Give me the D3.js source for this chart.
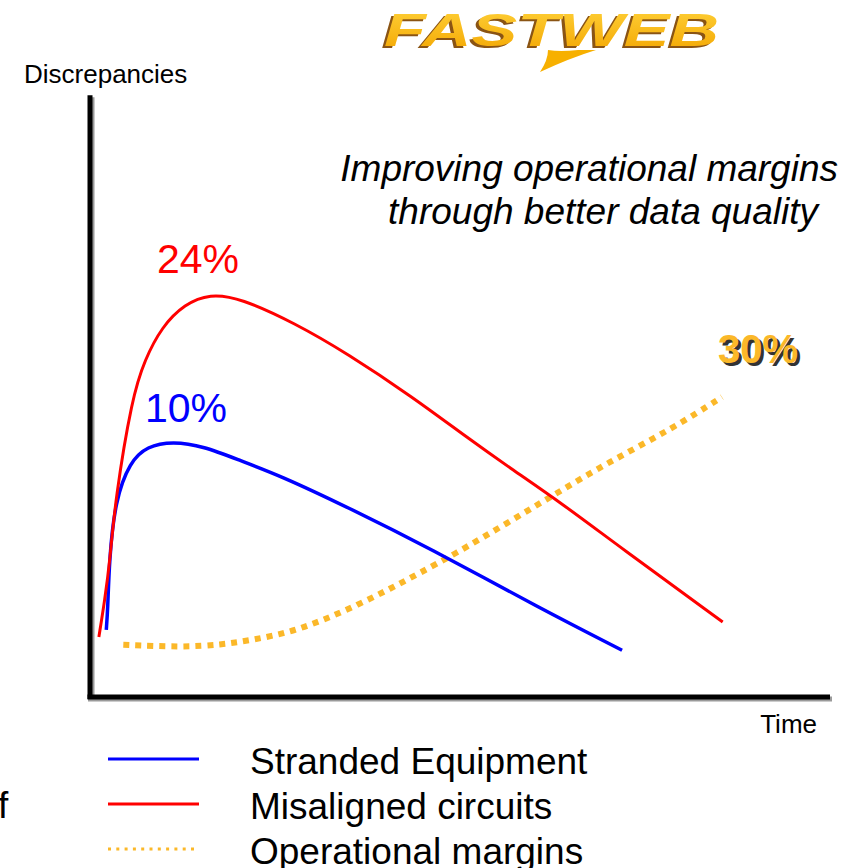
<!DOCTYPE html>
<html>

<head>
    <meta charset="utf-8">
    <title>Discrepancies over time</title>
    <script src="https://d3js.org/d3.v7.min.js"></script>
    <style>
        body { margin: 0; background: #fff; }
        text { font-family: "Liberation Sans", Arial, sans-serif; }
    </style>
</head>

<body>
    <svg id="chart" width="856" height="868"></svg>
    <script>
        // time index (0-100) and discrepancy index (0-100)
        const redT = [1.2, 2.0, 2.7, 3.4, 5.7, 7.4, 9.7, 12.8, 16.2, 20.3, 27.7, 34.7, 43.6, 50.9, 57.2, 63.5, 71.6, 85.5];
        const redV = [10, 16.2, 22.8, 32.8, 50, 56.2, 61.7, 65.5, 67.2, 66.5, 62.3, 57.3, 50, 43.3, 37.8, 32.5, 25, 12.5];

        const blueT = [2.2, 2.4, 2.6, 3.4, 5.4, 7.7, 11.2, 15.3, 20.3, 25.7, 34.7, 45.9, 60.8, 71.9];
        const blueV = [11.2, 14.5, 22.8, 32.8, 39.2, 41.8, 42.6, 41.8, 39.4, 36.9, 31.7, 24.8, 14.8, 7.8];

        const orangeT = [4.5, 12.6, 17.6, 22, 27, 31.5, 36.1, 40.5, 44.6, 49.1, 56.4, 63.1, 69.9, 78.8, 85.4];
        const orangeV = [8.7, 8.3, 8.7, 9.5, 10.8, 12.8, 15.3, 18, 20.7, 23.7, 29, 34, 39, 44.8, 50];

        const seriesNames = ["Stranded Equipment", "Misaligned circuits", "Operational margins"];
        const peakLabels = ["10%", "24%", "30%"];

        const svg = d3.select("#chart");

        const x = d3.scaleLinear().domain([0, 100]).range([90, 830]);
        const y = d3.scaleLinear().domain([0, 100]).range([697, 97]);

        // logo
        const logo = svg.append("g");
        const grad = svg.append("defs").append("linearGradient")
            .attr("id", "logoGrad").attr("x1", 0).attr("y1", 0).attr("x2", 0).attr("y2", 1);
        grad.append("stop").attr("offset", "0%").attr("stop-color", "#ffd23a");
        grad.append("stop").attr("offset", "100%").attr("stop-color", "#f3a500");
        logo.append("text")
            .attr("x", 381).attr("y", 48)
            .attr("textLength", 335).attr("lengthAdjust", "spacingAndGlyphs")
            .style("font-size", "46px").style("font-weight", "bold").style("font-style", "italic")
            .attr("fill", "#8a5414")
            .text("FASTWEB");
        logo.append("text")
            .attr("x", 384).attr("y", 46)
            .attr("textLength", 335).attr("lengthAdjust", "spacingAndGlyphs")
            .style("font-size", "46px").style("font-weight", "bold").style("font-style", "italic")
            .attr("fill", "url(#logoGrad)")
            .text("FASTWEB");
        logo.append("path")
            .attr("d", "M548,50 Q560,52 578,50 L596,50 Q570,58 540,72 Q548,60 548,50 Z")
            .attr("fill", "#f7b000");

        // axes with soft shadow
        const axisG = svg.append("g");
        axisG.append("line")
            .attr("x1", x(0) + 2).attr("x2", x(0) + 2).attr("y1", y(100.3) + 2).attr("y2", y(0) + 3)
            .attr("stroke", "#9a9a9a").attr("stroke-width", 5);
        axisG.append("line")
            .attr("x1", x(0) - 2).attr("x2", x(100) + 2).attr("y1", y(0) + 2).attr("y2", y(0) + 2)
            .attr("stroke", "#9a9a9a").attr("stroke-width", 5);
        axisG.append("line")
            .attr("x1", x(0)).attr("x2", x(0)).attr("y1", y(100.3)).attr("y2", y(0) + 2)
            .attr("stroke", "#000").attr("stroke-width", 5);
        axisG.append("line")
            .attr("x1", x(0) - 2.5).attr("x2", x(100)).attr("y1", y(0)).attr("y2", y(0))
            .attr("stroke", "#000").attr("stroke-width", 5);

        svg.append("text").attr("x", 24).attr("y", 83)
            .style("font-size", "26px").attr("fill", "#000").text("Discrepancies");
        svg.append("text").attr("x", 817).attr("y", 733).attr("text-anchor", "end")
            .style("font-size", "26px").attr("fill", "#000").text("Time");

        // curves
        const line = d3.line()
            .x(d => x(d[0]))
            .y(d => y(d[1]))
            .curve(d3.curveBasis);

        svg.append("path")
            .datum(d3.zip(orangeT, orangeV))
            .attr("fill", "none").attr("stroke", "#fbb829").attr("stroke-width", 6)
            .attr("stroke-dasharray", "6,6")
            .attr("d", line);
        svg.append("path")
            .datum(d3.zip(blueT, blueV))
            .attr("fill", "none").attr("stroke", "#0000ff").attr("stroke-width", 3.5)
            .attr("d", line);
        svg.append("path")
            .datum(d3.zip(redT, redV))
            .attr("fill", "none").attr("stroke", "#ff0000").attr("stroke-width", 3)
            .attr("d", line);

        // peak labels
        svg.append("text").attr("x", 145).attr("y", 422)
            .style("font-size", "41px").attr("fill", "#0000ff").text(peakLabels[0]);
        svg.append("text").attr("x", 157).attr("y", 273)
            .style("font-size", "41px").attr("fill", "#ff0000").text(peakLabels[1]);
        svg.append("text").attr("x", 721).attr("y", 366)
            .style("font-size", "40px").style("font-weight", "bold").attr("fill", "#333").text(peakLabels[2]);
        svg.append("text").attr("x", 718).attr("y", 363)
            .style("font-size", "40px").style("font-weight", "bold").attr("fill", "#fbb829").text(peakLabels[2]);

        // headline
        svg.append("text").attr("x", 838).attr("y", 181).attr("text-anchor", "end")
            .style("font-size", "37px").style("font-style", "italic").attr("fill", "#000")
            .text("Improving operational margins");
        svg.append("text").attr("x", 818).attr("y", 224).attr("text-anchor", "end")
            .style("font-size", "37px").style("font-style", "italic").attr("fill", "#000")
            .text("through better data quality");

        // legend
        const legendColors = ["#0000ff", "#ff0000", "#fbb829"];
        const legendY = [759, 804, 849];
        const legend = svg.append("g");
        seriesNames.forEach((name, i) => {
            legend.append("line")
                .attr("x1", 108).attr("x2", i === 2 ? 196 : 199)
                .attr("y1", legendY[i]).attr("y2", legendY[i])
                .attr("stroke", legendColors[i]).attr("stroke-width", 3)
                .attr("stroke-dasharray", i === 2 ? "3,5.3" : null);
            legend.append("text")
                .attr("x", 250).attr("y", legendY[i] + 15)
                .style("font-size", "37px").attr("fill", "#000")
                .text(name);
        });

        // cut-off letter at the slide edge
        svg.append("text").attr("x", -2).attr("y", 818)
            .style("font-size", "37px").attr("fill", "#000").text("f");
    </script>
</body>

</html>
